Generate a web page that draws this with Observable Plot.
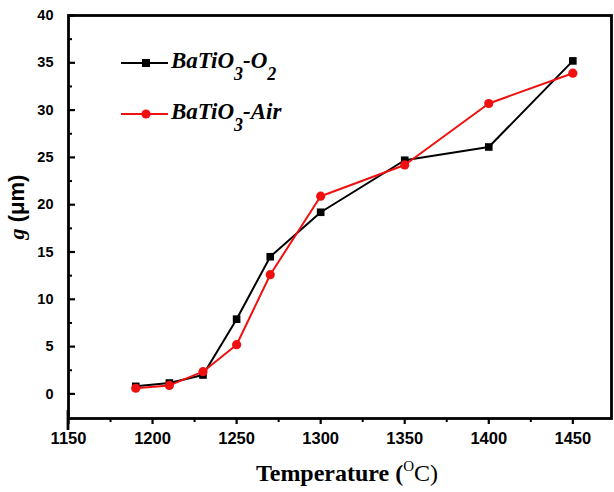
<!DOCTYPE html>
<html><head><meta charset="utf-8">
<script src="https://cdn.jsdelivr.net/npm/d3@7"></script>
<script src="https://cdn.jsdelivr.net/npm/@observablehq/plot@0.6"></script>
<style>body{margin:0;background:#fff} #chart{width:614px;height:492px}</style>
</head><body><div id="chart"></div>
<script>
const temperatures = [1190, 1210, 1230, 1250, 1270, 1300, 1350, 1400, 1450];
const gO2  = [0.8, 1.15, 2.0, 7.9, 14.5, 19.2, 24.7, 26.1, 35.2];
const gAir = [0.6, 0.9, 2.35, 5.2, 12.6, 20.9, 24.2, 30.7, 33.9];
const xTicks = [1150, 1200, 1250, 1300, 1350, 1400, 1450];
const xMinorTicks = [1175, 1225, 1275, 1325, 1375, 1425];
const yTicks = [0, 5, 10, 15, 20, 25, 30, 35, 40];
const yMinorTicks = [2.5, 7.5, 12.5, 17.5, 22.5, 27.5, 32.5, 37.5];

const O2 = temperatures.map((t, i) => ({t, g: gO2[i]}));
const Air = temperatures.map((t, i) => ({t, g: gAir[i]}));
const RED = "#f01010";

const plot = Plot.plot({
  width: 614, height: 492,
  marginLeft: 68, marginRight: 3, marginTop: 15, marginBottom: 74,
  style: {fontFamily: "'Liberation Sans', Arial, sans-serif", fontSize: "16px", fontWeight: "bold", background: "#fff", color: "#000"},
  x: {domain: [1150, 1473]},
  y: {domain: [-2.6, 40]},
  marks: [
    Plot.axisX({ticks: xTicks, tickSize: 6, tickPadding: 8, strokeWidth: 2.2, label: null, fontSize: 16.5, tickFormat: d => String(d)}),
    Plot.axisX({ticks: xMinorTicks, tickSize: 4, strokeWidth: 2, text: null, label: null}),
    Plot.axisY({ticks: yTicks, tickSize: -7, tickPadding: 22, strokeWidth: 2.2, label: null, fontSize: 14.5}),
    Plot.axisY({ticks: yMinorTicks, tickSize: -4, strokeWidth: 2, text: null, label: null}),
    Plot.frame({stroke: "#000", strokeWidth: 2.8}),
    Plot.line(O2, {x: "t", y: "g", stroke: "#000", strokeWidth: 2}),
    Plot.dot(O2, {x: "t", y: "g", symbol: "square", r: 4.3, fill: "#000"}),
    Plot.line(Air, {x: "t", y: "g", stroke: RED, strokeWidth: 2}),
    Plot.dot(Air, {x: "t", y: "g", symbol: "circle", r: 4.6, fill: RED})
  ]
});
document.getElementById("chart").appendChild(plot);

const svg = d3.select(plot);
// y axis line extending slightly below the frame
svg.append("line").attr("x1", 68).attr("x2", 68).attr("y1", 410).attr("y2", 430).attr("stroke", "#000").attr("stroke-width", 2.8);

// x axis title
const xt = svg.append("text").attr("x", 347).attr("y", 481).attr("text-anchor", "middle")
  .attr("font-family", "'Liberation Serif', 'Times New Roman', serif").attr("font-size", 24).attr("fill", "#000");
xt.append("tspan").attr("font-weight", "bold").text("Temperature (");
xt.append("tspan").attr("font-size", 15).attr("font-weight", "normal").attr("dy", -10).text("O");
xt.append("tspan").attr("font-weight", "normal").attr("dy", 10).text("C)");

// y axis title
const yt = svg.append("text").attr("transform", "translate(24,207) rotate(-90)").attr("text-anchor", "middle")
  .attr("font-size", 22).attr("font-weight", "bold").attr("fill", "#000");
yt.append("tspan").attr("font-family", "'Liberation Serif', 'Times New Roman', serif").attr("font-style", "italic").text("g");
yt.append("tspan").attr("font-family", "'Liberation Sans', Arial, sans-serif").text(" (\u03bcm)");

// legend
const legendItems = [
  {color: "#000", symbol: "square", y: 63, parts: [["BaTiO", 0], ["3", 1], ["-O", 0], ["2", 1]]},
  {color: RED, symbol: "circle", y: 114, parts: [["BaTiO", 0], ["3", 1], ["-Air", 0]]}
];
for (const it of legendItems) {
  const g = svg.append("g");
  g.append("line").attr("x1", 121).attr("x2", 168).attr("y1", it.y).attr("y2", it.y).attr("stroke", it.color).attr("stroke-width", 2);
  if (it.symbol === "square") g.append("rect").attr("x", 142).attr("y", it.y - 4).attr("width", 8).attr("height", 8).attr("fill", it.color);
  else g.append("circle").attr("cx", 146).attr("cy", it.y).attr("r", 4.6).attr("fill", it.color);
  const t = g.append("text").attr("x", 171).attr("y", it.y + 4.5).attr("text-anchor", "start")
    .attr("font-family", "'Liberation Serif', 'Times New Roman', serif").attr("font-style", "italic")
    .attr("font-weight", "bold").attr("font-size", 23).attr("fill", "#000");
  let sub = false;
  for (const [s, isSub] of it.parts) {
    const sp = t.append("tspan").text(s);
    if (isSub && !sub) { sp.attr("dy", 12).attr("font-size", 18); sub = true; }
    else if (isSub) { sp.attr("font-size", 18); }
    else if (sub) { sp.attr("dy", -12); sub = false; }
  }
}
</script>
</body></html>
